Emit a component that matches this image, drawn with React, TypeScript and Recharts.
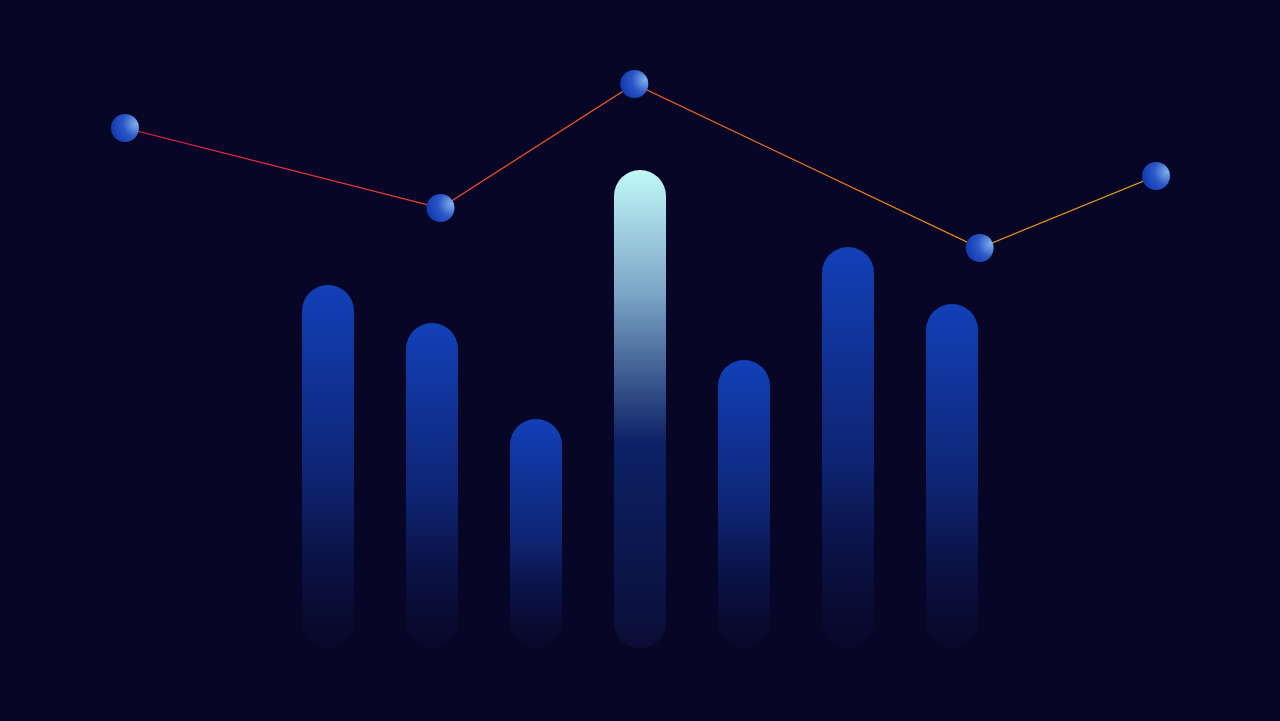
import { Bar, BarChart, Cell, Line, LineChart, XAxis, YAxis } from "recharts"

const categories = ["A", "B", "C", "D", "E", "F", "G"]
const barValues = [363, 325, 229, 478, 288, 401, 344]
const highlighted = "D"

const linePositions = [0, 30.6, 49.4, 82.9, 100]
const lineValues = [70, 30, 92, 10, 46]

const W = 1280
const H = 721

const barData = categories.map((name, i) => ({ name, value: barValues[i] }))
const lineData = linePositions.map((pos, i) => ({ pos, value: lineValues[i] }))

const SphereDot = (props: any) => {
  const { cx, cy } = props
  if (cx == null || cy == null) return null
  return <circle cx={cx} cy={cy} r={14} fill="url(#sphere)" />
}

const App = () => {
  return (
    <div
      style={{
        position: "fixed",
        left: 0,
        top: 0,
        width: W,
        height: H,
        background: "#070626",
        overflow: "hidden"
      }}
    >
      <div style={{ position: "absolute", left: 0, top: 0 }}>
        <BarChart
          width={W}
          height={H}
          data={barData}
          margin={{ top: 148, right: 276, bottom: 73, left: 276 }}
          barCategoryGap={0}
        >
          <defs>
            <linearGradient id="barBlue" x1="0" y1="0" x2="0" y2="1">
              <stop offset="0%" stopColor="#1240b8" />
              <stop offset="55%" stopColor="#0e2370" />
              <stop offset="100%" stopColor="#0a0c34" stopOpacity={0.3} />
            </linearGradient>
            <linearGradient id="barLight" x1="0" y1="0" x2="0" y2="1">
              <stop offset="0%" stopColor="#c0f8f8" />
              <stop offset="25%" stopColor="#7ea8c8" />
              <stop offset="57%" stopColor="#0c2166" />
              <stop offset="100%" stopColor="#0b0e36" />
            </linearGradient>
          </defs>
          <XAxis dataKey="name" hide />
          <YAxis domain={[0, 500]} hide />
          <Bar dataKey="value" barSize={52} radius={[26, 26, 26, 26]} isAnimationActive={false}>
            {barData.map((d) => (
              <Cell key={d.name} fill={d.name === highlighted ? "url(#barLight)" : "url(#barBlue)"} />
            ))}
          </Bar>
        </BarChart>
      </div>
      <div style={{ position: "absolute", left: 0, top: 0 }}>
        <LineChart
          width={W}
          height={H}
          data={lineData}
          margin={{ top: 68, right: 124, bottom: 453, left: 125 }}
        >
          <defs>
            <linearGradient id="lineGrad" x1="0" y1="0" x2="1" y2="0">
              <stop offset="0%" stopColor="#ec1c4c" />
              <stop offset="50%" stopColor="#f25c1c" />
              <stop offset="100%" stopColor="#f4ae14" />
            </linearGradient>
            <radialGradient id="sphere" cx="90%" cy="35%" r="95%">
              <stop offset="0%" stopColor="#80b0ec" />
              <stop offset="50%" stopColor="#2c58c6" />
              <stop offset="100%" stopColor="#0e36b0" />
            </radialGradient>
          </defs>
          <XAxis dataKey="pos" type="number" domain={[0, 100]} hide />
          <YAxis domain={[0, 100]} hide />
          <Line
            dataKey="value"
            stroke="url(#lineGrad)"
            strokeWidth={1.2}
            dot={<SphereDot />}
            activeDot={false}
            isAnimationActive={false}
          />
        </LineChart>
      </div>
    </div>
  )
}

export default App
